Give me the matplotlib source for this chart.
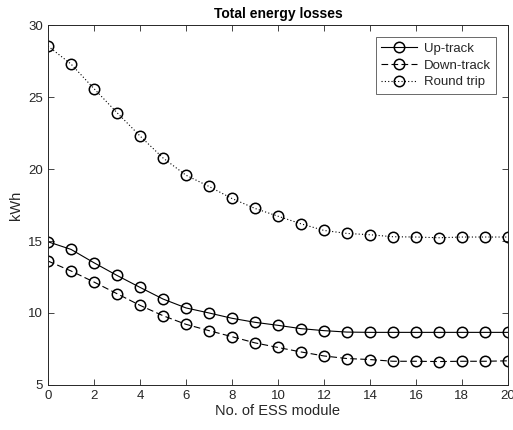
import matplotlib
matplotlib.use("Agg")
import numpy as np
import matplotlib.pyplot as plt

plt.rcParams['font.family'] = ['Liberation Sans', 'DejaVu Sans']

modules = np.arange(0, 21)
up_track = [14.95, 14.42, 13.49, 12.61, 11.78, 10.97, 10.35, 10.0, 9.63, 9.35, 9.14,
            8.91, 8.77, 8.67, 8.65, 8.65, 8.65, 8.65, 8.65, 8.65, 8.65]
down_track = [13.61, 12.92, 12.15, 11.34, 10.53, 9.81, 9.21, 8.77, 8.35, 7.92, 7.6,
              7.29, 7.01, 6.83, 6.76, 6.64, 6.64, 6.62, 6.64, 6.64, 6.67]
round_trip = [28.56, 27.31, 25.6, 23.93, 22.31, 20.78, 19.58, 18.8, 17.96, 17.27, 16.73,
              16.2, 15.74, 15.53, 15.44, 15.3, 15.28, 15.23, 15.28, 15.28, 15.28]

txt = '#262626'

fig = plt.figure(figsize=(5.13, 4.30), dpi=100)
ax = fig.add_axes([0.0936, 0.105, 0.8964, 0.836])

mk = dict(marker='o', markersize=7.5, markerfacecolor='none', markeredgewidth=1.1,
          color='black', linewidth=0.8)
ax.plot(modules, up_track, linestyle='-', label='Up-track', **mk)
ax.plot(modules, down_track, linestyle=(0, (6, 3)), label='Down-track', **mk)
ax.plot(modules, round_trip, linestyle=(0, (1, 2)), label='Round trip', **mk)

ax.set_xlim(0, 20)
ax.set_ylim(5, 30)
ax.set_xticks(np.arange(0, 21, 2))
ax.set_yticks(np.arange(5, 31, 5))
ax.tick_params(direction='in', top=True, right=True, labelsize=9.5, colors=txt,
               length=4, width=0.6)
for s in ax.spines.values():
    s.set_color(txt)
    s.set_linewidth(0.7)

ax.set_title('Total energy losses', fontsize=10, fontweight='bold', color='black', pad=5)
ax.set_xlabel('No. of ESS module', fontsize=10.5, color=txt, labelpad=2)
ax.set_ylabel('kWh', fontsize=10.5, color=txt, labelpad=4)

leg = ax.legend(loc='upper right', fontsize=9.5, frameon=True, fancybox=False,
                edgecolor=txt, handlelength=2.7, borderaxespad=0.9,
                labelspacing=0.35, handletextpad=0.5)
leg.get_frame().set_linewidth(0.6)
for t in leg.get_texts():
    t.set_color(txt)

fig.savefig('out.png', dpi=100)
